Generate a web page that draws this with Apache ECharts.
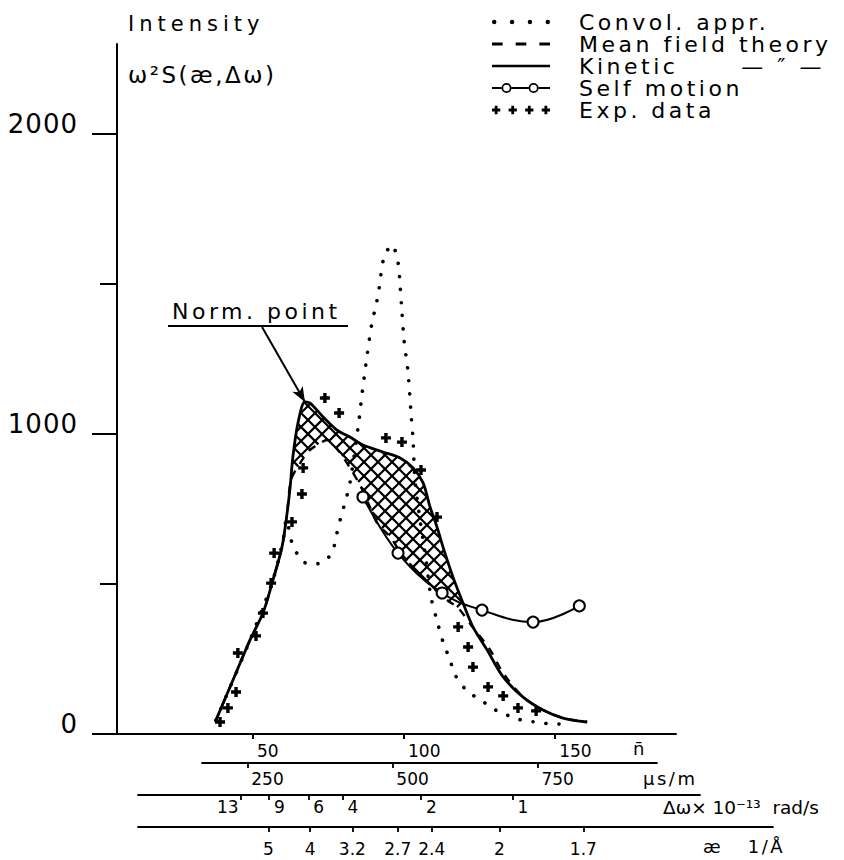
<!DOCTYPE html>
<html>
<head>
<meta charset="utf-8">
<title>Intensity ω²S(æ,Δω)</title>
<script src="https://cdn.jsdelivr.net/npm/echarts@6/dist/echarts.min.js"></script>
<style>
  html, body { margin: 0; padding: 0; background: #fff; }
  #chart { width: 844px; height: 860px; }
  /* widely spaced, typewriter-style lettering for the larger texts */
  #chart text[style*="21px"] { letter-spacing: 5px; }
  #chart text[style*="23px"] { letter-spacing: 2.5px; }
  #chart text[style*="22px"] { letter-spacing: 3.5px; }
  #chart text[style*="26px"] { letter-spacing: 1px; }
  #chart text[style*="18px"] { letter-spacing: 2.5px; }
</style>
</head>
<body>
<div id="chart"></div>
<script>
// ---- axis ticks -------------------------------------------------------
const N_TICKS = [50, 100, 150];                 // n̄
const SPEED_TICKS = [250, 500, 750];            // μs/m
const DW_LABELS = ['13', '9', '6', '4', '2', '1'];                 // Δω × 10⁻¹³ rad/s
const DW_AT_N = [45.9, 55.3, 68.3, 79.6, 105.6, 135.9];           // their places on the n̄ scale
const KAPPA_LABELS = ['5', '4', '3.2', '2.7', '2.4', '2', '1.7']; // æ in 1/Å
const KAPPA_AT_N = [55.1, 68.9, 82.9, 97.9, 109.2, 131.6, 159.4];
const Y_TICKS = [0, 1000, 2000];
const Y_MINOR = [500, 1500];

// ---- curves: [n̄, ω²S] -------------------------------------------------
const convol = [
  [37.7, 45], [49.0, 313], [56.6, 513], [60.3, 663], [61.0, 715], [62.9, 637],
  [64.9, 597], [68.2, 567], [72.8, 570], [76.2, 607], [77.8, 670], [79.1, 723],
  [80.8, 783], [82.1, 837], [84.8, 1023], [86.1, 1133], [87.7, 1257], [89.4, 1373],
  [90.7, 1427], [91.7, 1483], [93.4, 1590], [96.0, 1630], [98.0, 1573], [98.7, 1493],
  [99.3, 1407], [100.0, 1313], [101.3, 1207], [102.3, 1070], [103.0, 977], [103.6, 850],
  [105.3, 713], [107.3, 580], [108.9, 457], [111.3, 363], [112.9, 307], [115.2, 247],
  [116.9, 197], [120.5, 147], [124.2, 120], [127.8, 97], [131.5, 73], [135.8, 57],
  [140.1, 43], [144.4, 40], [148.7, 33], [153.0, 33]
];
const meanField = [
  [37.7, 45], [43.4, 180], [49.0, 313], [53.3, 403], [56.6, 513], [59.6, 623],
  [61.3, 737], [62.6, 847], [65.6, 903], [68.9, 947], [71.2, 963], [74.5, 980],
  [78.1, 947], [82.1, 887], [85.4, 830], [88.7, 757], [91.1, 703], [95.4, 657],
  [98.7, 607], [104.3, 537], [108.6, 497], [114.2, 447], [117.9, 420], [121.9, 367],
  [128.5, 280], [132.8, 203], [139.4, 123], [146.0, 80], [152.6, 53], [160.6, 40]
];
const kinetic = [
  [37.7, 45], [43.4, 180], [49.0, 313], [53.3, 403], [56.6, 513], [59.6, 623],
  [61.3, 737], [62.3, 823], [63.2, 923], [64.9, 1037], [67.2, 1107], [68.9, 1103],
  [73.2, 1057], [77.8, 1013], [82.1, 990], [86.4, 963], [93.0, 940], [98.7, 920],
  [103.0, 887], [106.3, 837], [108.6, 757], [110.9, 690], [112.9, 623], [116.2, 523],
  [119.5, 437], [122.8, 357], [127.5, 280], [132.8, 190], [139.4, 123], [146.0, 80],
  [152.6, 53], [160.6, 40]
];
const selfMotion = [
  [86.4, 790], [98.0, 603], [112.6, 470], [125.8, 413], [142.7, 373], [158.0, 427]
];
const expData = [
  [39.1, 40], [41.7, 87], [44.4, 140], [45.0, 270], [51.0, 327], [53.3, 403],
  [56.0, 503], [57.0, 603], [62.9, 707], [66.2, 800], [66.6, 887], [73.8, 1120],
  [78.5, 1070], [94.0, 987], [99.3, 973], [105.6, 880], [110.9, 723], [117.9, 357],
  [121.2, 290], [122.8, 223], [127.8, 157], [132.8, 127], [137.7, 87], [143.7, 77]
];
// stretch of n̄ where the kinetic curve lies above mean field theory (cross-hatched)
const HATCH_SPAN = [62.3, 119.5];
// where the "Norm. point" pointer starts
const NORM_FROM = [53.0, 1357];

const FONT = '"DejaVu Sans"';
const INK = '#000';

// ---- marker and legend-key outlines --------------------------------------
const plus = o => `M${o + 3.3},0H${o + 6.7}V3.3H${o + 10}V6.7H${o + 6.7}V10H${o + 3.3}V6.7H${o}V3.3H${o + 3.3}Z`;
const PLUS_SYMBOL = 'path://' + plus(0);
const EXP_ICON = 'path://' + [0, 20, 40, 60].map(plus).join('');
const disc = (cx, r) => `M${cx - r},${r}A${r},${r} 0 1,0 ${cx + r},${r}A${r},${r} 0 1,0 ${cx - r},${r}Z`;
const DOTTED_ICON = 'path://' + [2, 18, 34, 50].map(cx => disc(cx, 2)).join('');
const DASHED_ICON = 'path://M0,0H9V2.4H0Z M20,0H29V2.4H20Z M40,0H49V2.4H40Z';
const SOLID_ICON = 'path://M0,0H58V2.4H0Z';
const ring = cx => `M${cx - 5.2},6A5.2,5.2 0 1,0 ${cx + 5.2},6A5.2,5.2 0 1,0 ${cx - 5.2},6Z` +
  `M${cx - 3.4},6A3.4,3.4 0 1,1 ${cx + 3.4},6A3.4,3.4 0 1,1 ${cx - 3.4},6Z`;
const bar = (a, b) => `M${a},5H${b}V7H${a}Z`;
const SELF_ICON = 'path://' + bar(0, 9.8) + ring(15) + bar(20.2, 37.8) + ring(43) + bar(48.2, 60);
const KEY_STYLE = { color: INK, borderWidth: 0, opacity: 1 };

// clip a family of parallel lines x + k·y = c to a polygon (pixel space)
function hatchSegments(poly, step, k) {
  const vals = poly.map(p => p[0] + k * p[1]);
  const cMin = Math.min.apply(null, vals), cMax = Math.max.apply(null, vals);
  const segs = [];
  for (let c = Math.ceil(cMin / step) * step; c <= cMax; c += step) {
    const hits = [];
    for (let i = 0; i < poly.length; i++) {
      const a = poly[i], b = poly[(i + 1) % poly.length];
      const fa = a[0] + k * a[1] - c, fb = b[0] + k * b[1] - c;
      if ((fa < 0) !== (fb < 0)) {
        const t = fa / (fa - fb);
        hits.push([a[0] + t * (b[0] - a[0]), a[1] + t * (b[1] - a[1])]);
      }
    }
    hits.sort((p, q) => p[0] - q[0]);
    for (let j = 0; j + 1 < hits.length; j += 2) segs.push([hits[j], hits[j + 1]]);
  }
  return segs;
}

const inSpan = p => p[0] >= HATCH_SPAN[0] && p[0] <= HATCH_SPAN[1];
const normPoint = kinetic.reduce((a, b) => (b[1] > a[1] ? b : a));

const tickLabel = (size) => ({ color: INK, fontFamily: FONT, fontSize: size });
const scaleLine = { show: true, lineStyle: { color: INK, width: 1.8 } };
const scaleTick = { length: 5, lineStyle: { color: INK, width: 1.8 } };
const nameStyle = (size, top) => ({
  color: INK, fontFamily: FONT, fontSize: size, align: 'left', verticalAlign: 'top', padding: [top, 0, 0, 0]
});

const option = {
  animation: false,
  backgroundColor: '#fff',
  textStyle: { fontFamily: FONT, color: INK },
  title: {
    text: 'Intensity',
    subtext: 'ω²S(æ,Δω)',
    left: 123, top: 8, itemGap: 29,
    textStyle: { fontFamily: FONT, fontSize: 21, fontWeight: 'normal', color: INK },
    subtextStyle: { fontFamily: FONT, fontSize: 23, color: INK }
  },
  legend: {
    orient: 'vertical', left: 487, top: 6, itemGap: 0,
    itemWidth: 58, itemHeight: 14, selectedMode: false,
    textStyle: { fontFamily: FONT, fontSize: 22, color: INK, lineHeight: 21.2, padding: [0, 0, 0, 24] },
    formatter: name => (name === 'Kinetic' ? 'Kinetic      — ″ —' : name),
    data: [
      { name: 'Convol. appr.', icon: DOTTED_ICON, itemStyle: KEY_STYLE },
      { name: 'Mean field theory', icon: DASHED_ICON, itemStyle: KEY_STYLE },
      { name: 'Kinetic', icon: SOLID_ICON, itemStyle: KEY_STYLE },
      { name: 'Self motion', icon: SELF_ICON, itemStyle: KEY_STYLE },
      { name: 'Exp. data', icon: EXP_ICON, itemStyle: KEY_STYLE }
    ]
  },
  grid: [
    { left: 117, top: 44, width: 559, height: 690, outerBoundsMode: 'none' },   // plot
    { left: 202, top: 753, width: 455, height: 10, outerBoundsMode: 'none' },   // μs/m
    { left: 138, top: 785, width: 562, height: 10, outerBoundsMode: 'none' },   // Δω
    { left: 138, top: 817, width: 635, height: 10, outerBoundsMode: 'none' }    // æ
  ],
  xAxis: [
    {
      type: 'value', gridIndex: 0, min: 5, max: 190, position: 'bottom',
      name: 'n\u0304', nameLocation: 'end', nameGap: -43, nameMoveOverlap: false,
      nameTextStyle: nameStyle(18, 5),
      axisLine: { show: true, onZero: false, lineStyle: { color: INK, width: 2 } },
      axisTick: { customValues: N_TICKS, length: 5, lineStyle: { color: INK, width: 2 } },
      axisLabel: Object.assign(tickLabel(17), { customValues: N_TICKS, align: 'left', margin: 8.5, padding: [0, 0, 0, 4] }),
      splitLine: { show: false }
    },
    {
      type: 'value', gridIndex: 1, min: 172, max: 956, position: 'bottom',
      name: 'μs/m', nameLocation: 'end', nameGap: -14, nameMoveOverlap: false,
      nameTextStyle: nameStyle(18, 6),
      axisLine: scaleLine,
      axisTick: Object.assign({ customValues: SPEED_TICKS }, scaleTick),
      axisLabel: Object.assign(tickLabel(17), { customValues: SPEED_TICKS, align: 'left', margin: 7.5, padding: [0, 0, 0, 4] }),
      splitLine: { show: false }
    },
    {
      type: 'value', gridIndex: 2, min: 11.9, max: 198, position: 'bottom',
      name: 'Δω× 10⁻¹³  rad/s', nameLocation: 'end', nameGap: -37, nameMoveOverlap: false,
      nameTextStyle: nameStyle(18.5, 3),
      axisLine: scaleLine,
      axisTick: Object.assign({ customValues: DW_AT_N }, scaleTick),
      axisLabel: Object.assign(tickLabel(17), {
        customValues: DW_AT_N.slice(1), align: 'left', margin: 3, padding: [0, 0, 0, 5],
        formatter: v => DW_LABELS[DW_AT_N.indexOf(v)]
      }),
      splitLine: { show: false }
    },
    {
      // the first Δω mark is labelled on the left of its tick
      type: 'value', gridIndex: 2, min: 11.9, max: 198, position: 'bottom',
      axisLine: { show: false }, axisTick: { show: false },
      axisLabel: Object.assign(tickLabel(17), {
        customValues: DW_AT_N.slice(0, 1), align: 'right', margin: 3, padding: [0, 2, 0, 0],
        formatter: v => DW_LABELS[DW_AT_N.indexOf(v)]
      }),
      splitLine: { show: false }
    },
    {
      type: 'value', gridIndex: 3, min: 11.9, max: 222.2, position: 'bottom',
      name: 'æ   1/Å', nameLocation: 'end', nameGap: -70, nameMoveOverlap: false,
      nameTextStyle: nameStyle(18, 10),
      axisLine: scaleLine,
      axisTick: Object.assign({ customValues: KAPPA_AT_N }, scaleTick),
      axisLabel: Object.assign(tickLabel(17), {
        customValues: KAPPA_AT_N, align: 'center', margin: 13.5,
        formatter: v => KAPPA_LABELS[KAPPA_AT_N.indexOf(v)]
      }),
      splitLine: { show: false }
    }
  ],
  yAxis: [
    {
      type: 'value', gridIndex: 0, min: 0, max: 2300, position: 'left',
      axisLine: { show: true, lineStyle: { color: INK, width: 2 } },
      axisTick: { customValues: Y_TICKS, length: 25, lineStyle: { color: INK, width: 2 } },
      axisLabel: Object.assign(tickLabel(26), {
        customValues: Y_TICKS, margin: 39, verticalAlign: 'bottom', lineHeight: 20,
        formatter: v => String(v)
      }),
      splitLine: { show: false }
    },
    {
      type: 'value', gridIndex: 0, min: 0, max: 2300, position: 'left',
      axisLine: { show: false },
      axisTick: { customValues: Y_MINOR, length: 17, lineStyle: { color: INK, width: 2 } },
      axisLabel: { show: false },
      splitLine: { show: false }
    },
    { type: 'value', gridIndex: 1, min: 0, max: 1, show: false },
    { type: 'value', gridIndex: 2, min: 0, max: 1, show: false },
    { type: 'value', gridIndex: 3, min: 0, max: 1, show: false }
  ],
  graphic: [
    {
      type: 'text', left: 172, top: 300, silent: true,
      style: { text: 'Norm. point', font: '22px "DejaVu Sans"', fill: INK }
    },
    {
      type: 'line', silent: true,
      shape: { x1: 168, y1: 326, x2: 348, y2: 326 },
      style: { stroke: INK, lineWidth: 2 }
    }
  ],
  series: [
    {
      name: 'Kinetic excess', type: 'custom', xAxisIndex: 0, yAxisIndex: 0,
      silent: true, z: 1, data: [[80, 900]],
      renderItem: (params, api) => {
        const upper = kinetic.filter(inSpan).map(p => api.coord(p));
        const lower = meanField.filter(inSpan).map(p => api.coord(p)).reverse();
        const poly = upper.concat(lower);
        const children = [];
        [1, -1].forEach(k => {
          hatchSegments(poly, 14, k).forEach(s => children.push({
            type: 'line',
            shape: { x1: s[0][0], y1: s[0][1], x2: s[1][0], y2: s[1][1] },
            style: { stroke: INK, lineWidth: 2.2 }
          }));
        });
        return { type: 'group', children };
      }
    },
    {
      name: 'Convol. appr.', type: 'line', data: convol, symbol: 'none', smooth: 0.3, z: 3,
      lineStyle: { color: INK, width: 3.6, type: [0.1, 13], cap: 'round' },
      itemStyle: { color: INK }
    },
    {
      name: 'Mean field theory', type: 'line', data: meanField, symbol: 'none', smooth: 0.3, z: 3,
      lineStyle: { color: INK, width: 2.4, type: [8, 8] },
      itemStyle: { color: INK }
    },
    {
      name: 'Kinetic', type: 'line', data: kinetic, symbol: 'none', smooth: 0.3, z: 4,
      lineStyle: { color: INK, width: 2.8 },
      itemStyle: { color: INK },
      markLine: {
        silent: true, animation: false,
        symbol: ['none', 'arrow'], symbolSize: [9, 15],
        label: { show: false },
        lineStyle: { color: INK, width: 2, type: 'solid' },
        data: [[{ coord: NORM_FROM }, { coord: normPoint }]]
      }
    },
    {
      name: 'Self motion', type: 'line', data: selfMotion, smooth: 0.4, z: 5,
      symbol: 'circle', symbolSize: 11,
      lineStyle: { color: INK, width: 2 },
      itemStyle: { color: '#fff', borderColor: INK, borderWidth: 2 }
    },
    {
      name: 'Exp. data', type: 'scatter', data: expData, z: 6,
      symbol: PLUS_SYMBOL, symbolSize: 10,
      itemStyle: { color: INK, opacity: 1 }
    }
  ]
};

const chart = echarts.init(document.getElementById('chart'), null, { renderer: 'svg' });
chart.setOption(option);
</script>
</body>
</html>
